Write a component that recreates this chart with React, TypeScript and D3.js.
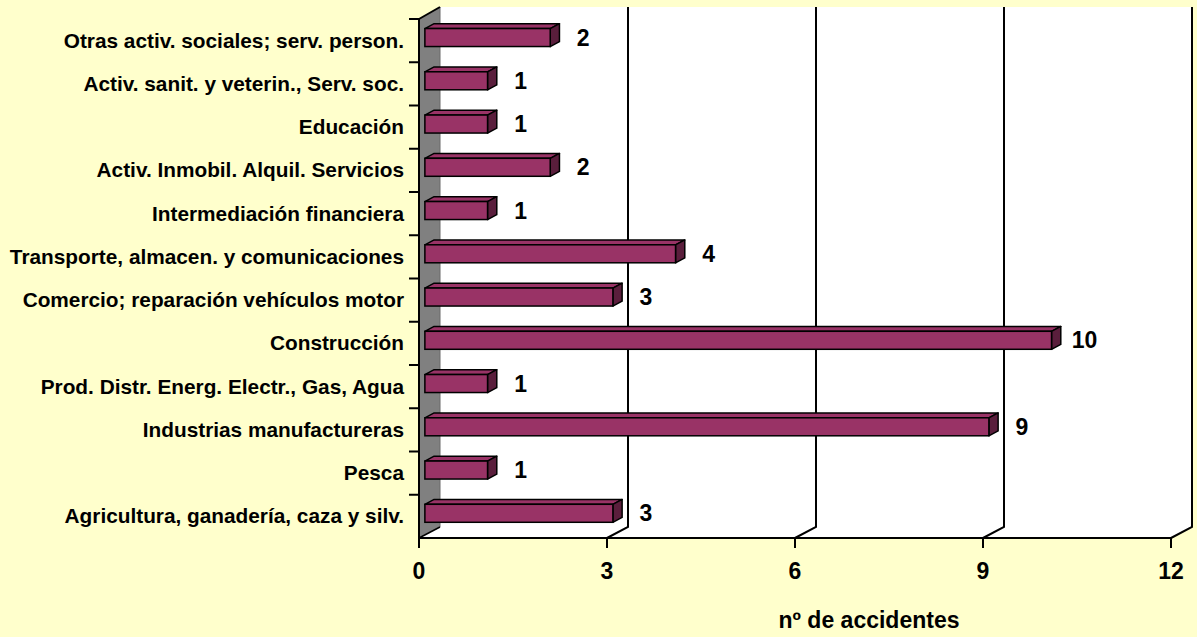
import React, { useEffect, useRef } from 'react';
import * as d3 from 'd3';

// sectors, bottom to top as drawn
const sectors = [
  'Agricultura, ganadería, caza y silv.',
  'Pesca',
  'Industrias manufactureras',
  'Prod. Distr. Energ. Electr., Gas, Agua',
  'Construcción',
  'Comercio; reparación vehículos motor',
  'Transporte, almacen. y comunicaciones',
  'Intermediación financiera',
  'Activ. Inmobil. Alquil. Servicios',
  'Educación',
  'Activ. sanit. y veterin., Serv. soc.',
  'Otras activ. sociales; serv. person.',
];
const accidents = [3, 1, 9, 1, 10, 3, 4, 1, 2, 1, 1, 2];
const xTicks = [0, 3, 6, 9, 12];
const xTitle = 'nº de accidentes';

const W = 1197;
const H = 637;

const App = () => {
  const svgRef = useRef<SVGSVGElement | null>(null);

  useEffect(() => {
    document.body.style.margin = '0';
    const svg = d3.select(svgRef.current);
    svg.selectAll('*').remove();

    const font = '"Liberation Sans", Arial, sans-serif';
    // depth of the 3D box
    const dx = 21;
    const dy = -11;
    const f0 = 0.28; // bar front depth
    const f1 = 0.72; // bar back depth
    const barH = 18;

    const x = d3.scaleLinear().domain([0, 12]).range([419, 1171]);
    const y = d3.scaleBand<string>()
      .domain(sectors.slice().reverse())
      .range([19, 538])
      .padding(0);

    svg.append('rect').attr('width', W).attr('height', H).attr('fill', '#FFFFCC');

    const y0 = 19;
    const yb = 538;
    const x0 = x(0);
    const x1 = x(12);

    // back wall + floor (white)
    svg.append('path')
      .attr('d', `M${x0 + dx},${y0 - 12} L${x1 + dx},${y0 - 12} L${x1 + dx},${yb + dy} L${x1},${yb} L${x0},${yb} L${x0 + dx},${yb + dy} Z`)
      .attr('fill', '#fff');

    // left side wall (gray)
    svg.append('path')
      .attr('d', `M${x0},${y0} L${x0 + dx},${y0 - 12} L${x0 + dx},${yb + dy} L${x0},${yb} Z`)
      .attr('fill', '#808080')
      .attr('stroke', 'none');
    svg.append('line')
      .attr('x1', x0 + dx).attr('x2', x0 + dx)
      .attr('y1', y0 - 12).attr('y2', yb + dy)
      .attr('stroke', '#6a6a6a').attr('stroke-width', 1);
    svg.append('path')
      .attr('d', `M${x0},${y0} L${x0 + dx},${y0 - 12}`)
      .attr('stroke', '#000').attr('stroke-width', 2).attr('fill', 'none');

    // gridlines on back wall and floor
    svg.append('g')
      .selectAll('path')
      .data(xTicks.slice(1))
      .join('path')
      .attr('d', d => `M${x(d) + dx},${y0 - 12} L${x(d) + dx},${yb + dy} L${x(d)},${yb}`)
      .attr('fill', 'none')
      .attr('stroke', '#000')
      .attr('stroke-width', 2);
    svg.append('path')
      .attr('d', `M${x0},${yb} L${x0 + dx},${yb + dy}`)
      .attr('stroke', '#000').attr('stroke-width', 1.5);

    // axes
    svg.append('line')
      .attr('x1', x0).attr('x2', x1).attr('y1', yb).attr('y2', yb)
      .attr('stroke', '#000').attr('stroke-width', 2);
    svg.append('line')
      .attr('x1', x0).attr('x2', x0).attr('y1', y0).attr('y2', yb + 10)
      .attr('stroke', '#000').attr('stroke-width', 2);

    svg.append('g')
      .selectAll('line')
      .data(xTicks)
      .join('line')
      .attr('x1', d => x(d)).attr('x2', d => x(d))
      .attr('y1', yb).attr('y2', yb + 10)
      .attr('stroke', '#000').attr('stroke-width', 2);

    svg.append('g')
      .selectAll('text')
      .data(xTicks)
      .join('text')
      .attr('x', d => x(d))
      .attr('y', yb + 41)
      .attr('text-anchor', 'middle')
      .style('font-family', font)
      .style('font-size', '23px')
      .style('font-weight', 'bold')
      .text(d => d);

    // category ticks at band edges
    const edges = sectors.map(s => y(s)!).concat([y0]);
    svg.append('g')
      .selectAll('line')
      .data(edges)
      .join('line')
      .attr('x1', x0 - 10).attr('x2', x0)
      .attr('y1', d => d).attr('y2', d => d)
      .attr('stroke', '#000').attr('stroke-width', 2);

    svg.append('g')
      .selectAll('text')
      .data(sectors)
      .join('text')
      .attr('x', 404)
      .attr('y', d => y(d)! + y.bandwidth() / 2 + 7)
      .attr('text-anchor', 'end')
      .style('font-family', font)
      .style('font-size', '20.8px')
      .style('font-weight', 'bold')
      .text(d => d);

    // bars
    const bars = svg.append('g')
      .selectAll('g')
      .data(sectors.map((s, i) => ({ s, v: accidents[i] })))
      .join('g');

    const fx = (v: number) => x(v) + dx * f0;
    const fy = (s: string) => y(s)! + y.bandwidth() / 2 + dy * f0;
    const bdx = dx * (f1 - f0);
    const bdy = dy * (f1 - f0);

    bars.append('path')
      .attr('d', d => {
        const l = fx(0), r = fx(d.v), t = fy(d.s) - barH / 2;
        return `M${l},${t} L${l + bdx},${t + bdy} L${r + bdx},${t + bdy} L${r},${t} Z`;
      })
      .attr('fill', '#993366').attr('stroke', '#000').attr('stroke-width', 1.5)
      .attr('stroke-linejoin', 'round');
    bars.append('path')
      .attr('d', d => {
        const r = fx(d.v), t = fy(d.s) - barH / 2;
        return `M${r},${t} L${r + bdx},${t + bdy} L${r + bdx},${t + bdy + barH} L${r},${t + barH} Z`;
      })
      .attr('fill', '#5A1E3C').attr('stroke', '#000').attr('stroke-width', 1.5)
      .attr('stroke-linejoin', 'round');
    bars.append('rect')
      .attr('x', fx(0))
      .attr('y', d => fy(d.s) - barH / 2)
      .attr('width', d => fx(d.v) - fx(0))
      .attr('height', barH)
      .attr('fill', '#993366').attr('stroke', '#000').attr('stroke-width', 1.5);

    // value labels
    bars.append('text')
      .attr('x', d => fx(d.v) + 33)
      .attr('y', d => fy(d.s) + 8)
      .attr('text-anchor', 'middle')
      .style('font-family', font)
      .style('font-size', '23px')
      .style('font-weight', 'bold')
      .text(d => d.v);

    svg.append('text')
      .attr('x', 869)
      .attr('y', 628)
      .attr('text-anchor', 'middle')
      .style('font-family', font)
      .style('font-size', '23px')
      .style('font-weight', 'bold')
      .text(xTitle);
  }, []);

  return <svg ref={svgRef} width={W} height={H} style={{ display: 'block' }} />;
};

export default App;
